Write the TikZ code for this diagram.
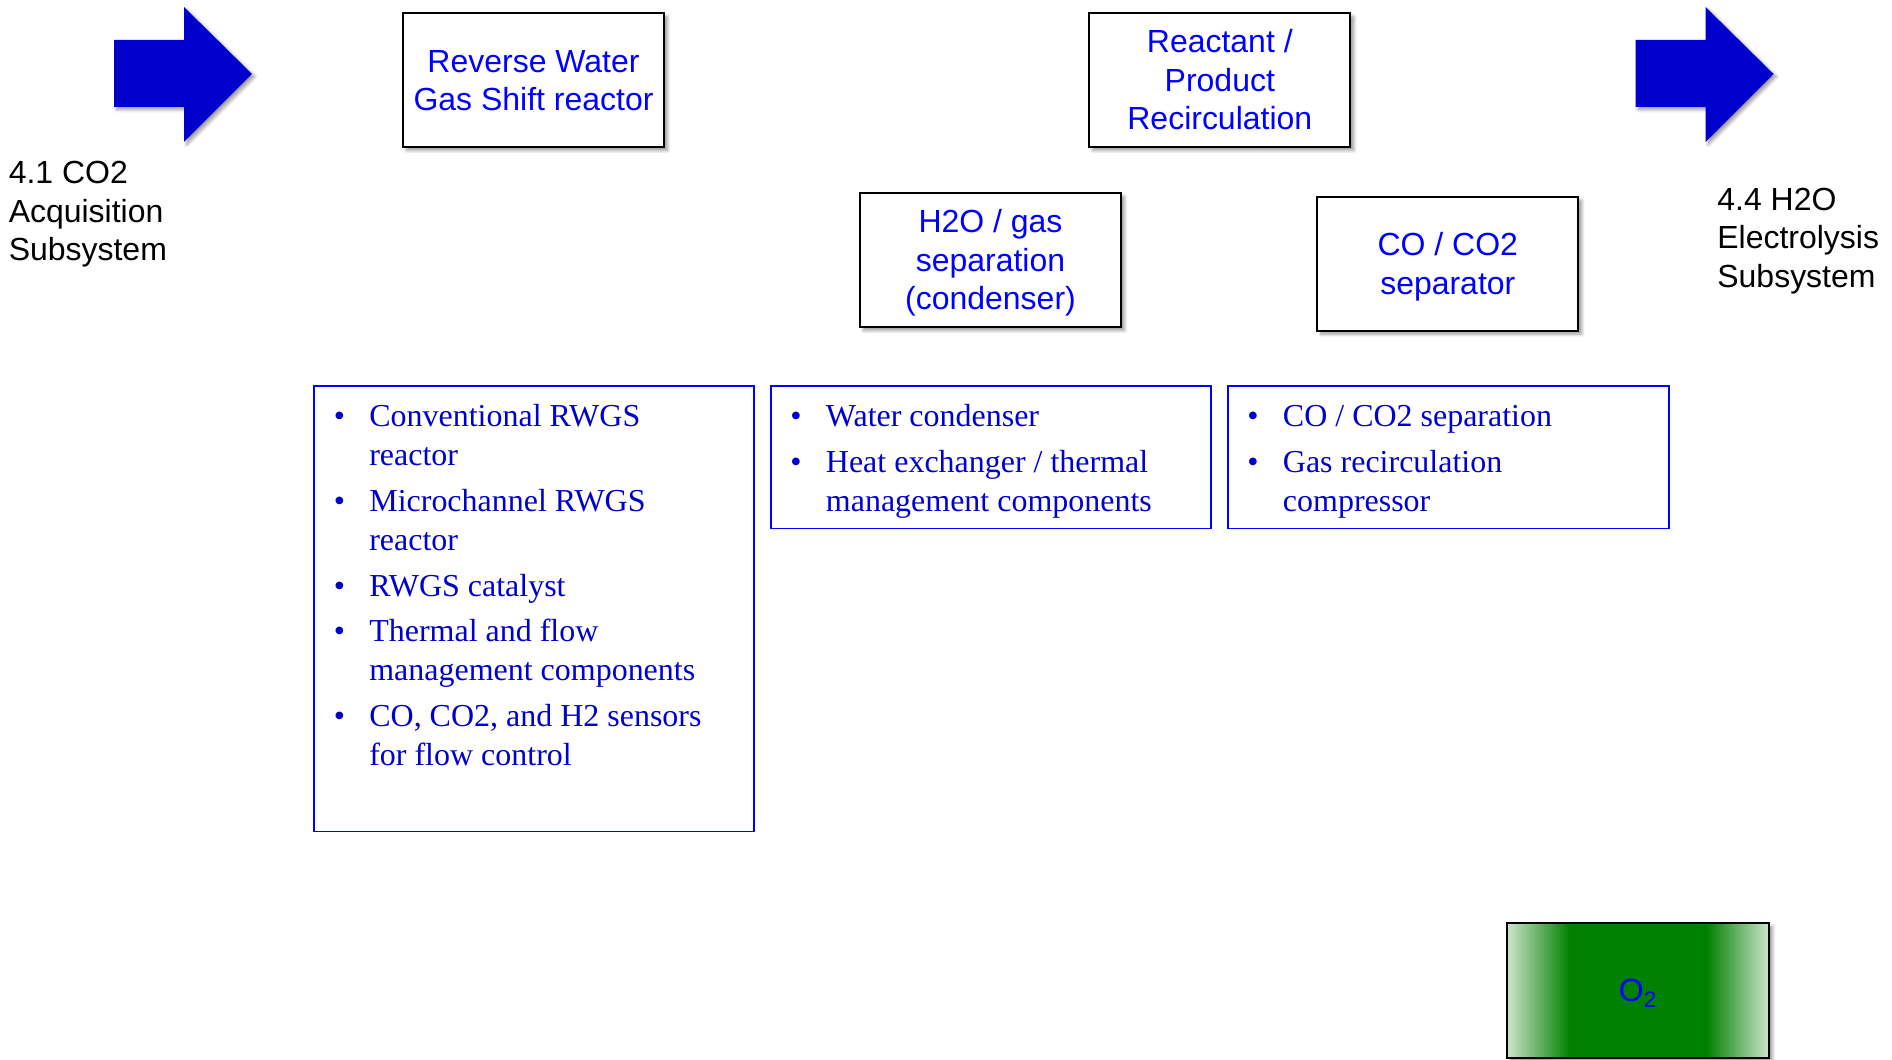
\documentclass[tikz,border=0pt]{standalone}
\usepackage{fontspec}
\setmainfont{Liberation Serif}
\setsansfont{Liberation Sans}
\usetikzlibrary{shadows.blur}

\definecolor{boxblue}{RGB}{0,0,255}
\definecolor{listblue}{RGB}{0,0,204}
\definecolor{arrowblue}{RGB}{0,0,204}
\definecolor{ogreen}{RGB}{0,128,0}

\pgfdeclarehorizontalshading{otwoshade}{100bp}{color(0bp)=(ogreen!20!white); color(25bp)=(ogreen!20!white); color(37bp)=(ogreen); color(63bp)=(ogreen); color(75bp)=(ogreen!20!white); color(100bp)=(ogreen!20!white)}

\newcommand{\bigfont}{\fontsize{18.2}{21.95}\selectfont}
\newcommand{\ls}{\rule[-4.4pt]{0pt}{21.8pt}}

\begin{document}
\begin{tikzpicture}[x=0.02cm, y=-0.02cm,
  unit/.style={draw=black, line width=1.1pt, fill=white, text=boxblue, font=\sffamily\bigfont, align=center, minimum width=5.22cm, minimum height=2.68cm, inner sep=0pt, blur shadow={shadow xshift=2pt, shadow yshift=-2pt, shadow blur steps=6}},
  items/.style={draw=boxblue, line width=0.75pt, inner sep=0pt},
  itemtext/.style={anchor=base west, inner sep=0pt, text=listblue, font=\rmfamily\bigfont},
  sublabel/.style={anchor=west, inner sep=0pt, align=left, font=\sffamily\bigfont},
  flow/.style={fill=arrowblue, blur shadow={shadow xshift=1.5pt, shadow yshift=-1.5pt, shadow blur steps=6}}]

\useasboundingbox (0,0) rectangle (1892,1060);

% in / out arrows
\fill[flow] (114,40) -- (184,40) -- (184,7) -- (252,74) -- (184,142) -- (184,107) -- (114,107) -- cycle;
\fill[flow, shift={(1521.5,0)}] (114,40) -- (184,40) -- (184,7) -- (252,74) -- (184,142) -- (184,107) -- (114,107) -- cycle;

\node[sublabel] (co2acq) at (8.4,214.5) {4.1 CO2\\Acquisition\\Subsystem};
\node[sublabel] (h2oel) at (1717,241) {4.4 H2O\\Electrolysis\\Subsystem};

% units
\node[unit] (rwgs) at (533.5,80) {\ls Reverse Water\\Gas Shift reactor\ls};
\node[unit] (recirc) at (1219.8,80) {\ls Reactant /\\Product\\Recirculation\ls};
\node[unit] (cond) at (990.5,260) {\ls H2O / gas\\separation\\(condenser)\ls};
\node[unit] (sep) at (1447.8,263.6) {\ls CO / CO2\\separator\ls};

% component lists
\node[items, minimum width=8.8cm, minimum height=8.91cm] (rwgslist) at (534,608.75) {};
\node[items, minimum width=8.8cm, minimum height=2.85cm] (condlist) at (991,457.25) {};
\node[items, minimum width=8.82cm, minimum height=2.85cm] (seplist) at (1448.5,457.25) {};

\node[itemtext] (rwgstext) at (333.4,427) {\begin{tabular}[t]{@{}p{0.712cm}@{}l@{}}
\textbullet & Conventional RWGS\\
 & reactor\\[4.2pt]
\textbullet & Microchannel RWGS\\
 & reactor\\[4.2pt]
\textbullet & RWGS catalyst\\[4.2pt]
\textbullet & Thermal and flow\\
 & management components\\[4.2pt]
\textbullet & CO, CO2, and H2 sensors\\
 & for flow control
\end{tabular}};
\node[itemtext] (condtext) at (790,427) {\begin{tabular}[t]{@{}p{0.712cm}@{}l@{}}
\textbullet & Water condenser\\[4.2pt]
\textbullet & Heat exchanger / thermal\\
 & management components
\end{tabular}};
\node[itemtext] (septext) at (1247,427) {\begin{tabular}[t]{@{}p{0.712cm}@{}l@{}}
\textbullet & CO / CO2 separation\\[4.2pt]
\textbullet & Gas recirculation\\
 & compressor
\end{tabular}};

% product
\node[draw=black, line width=1.1pt, shading=otwoshade, minimum width=5.24cm, minimum height=2.7cm, inner sep=0pt, text=boxblue, font=\sffamily\bigfont, blur shadow={shadow xshift=2pt, shadow yshift=-2pt, shadow blur steps=6}] (otwo) at (1638,990.5) {\ls O\textsubscript{2}};
\end{tikzpicture}
\end{document}
